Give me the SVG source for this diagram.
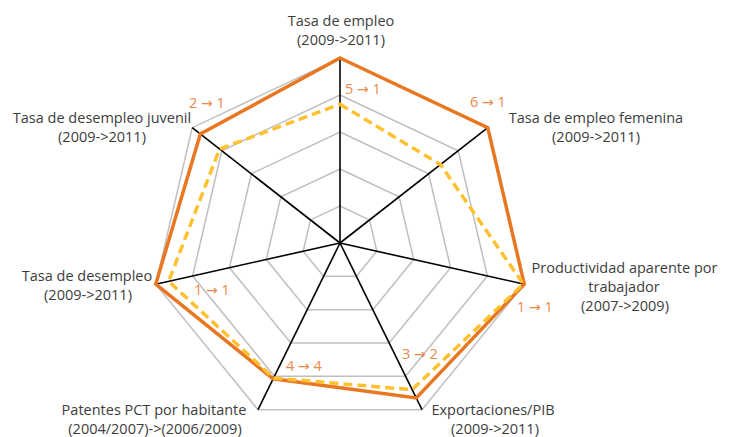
<svg xmlns="http://www.w3.org/2000/svg" width="731" height="437" viewBox="0 0 731 437">
<style>
.ring{fill:none;stroke:#bfbfbf;stroke-width:1.5}
.axis{stroke:#000;stroke-width:1.6}
.s2011{fill:none;stroke:#E87722;stroke-width:3.5;stroke-linejoin:miter}
.s2009{fill:none;stroke:#FFC130;stroke-width:3.5;stroke-dasharray:9 5;stroke-linejoin:round}
text{font-family:"Open Sans","Noto Sans","DejaVu Sans",sans-serif;font-size:14.5px}
.lbl{fill:#3d3d3d;text-anchor:middle}
.rk{fill:#E98A4A}
.ar{font-family:"DejaVu Sans",sans-serif;font-size:14px}
</style>
<rect width="731" height="437" fill="#fff"/>
<g id="grid">
<polygon class="ring" points="340,206 369.55,219.93 376.85,251.23 356.4,276.34 323.6,276.34 303.15,251.23 310.45,219.93"/>
<polygon class="ring" points="340,169 399.11,196.86 413.70,259.47 372.8,309.67 307.2,309.67 266.30,259.47 280.89,196.86"/>
<polygon class="ring" points="340,132 428.66,173.79 450.56,267.70 389.2,343.01 290.8,343.01 229.44,267.70 251.34,173.79"/>
<polygon class="ring" points="340,95 458.22,150.72 487.41,275.94 405.6,376.34 274.4,376.34 192.59,275.94 221.78,150.72"/>
<polygon class="ring" points="340,58 487.77,127.65 524.26,284.17 422,409.68 258,409.68 155.74,284.17 192.23,127.65"/>
</g>
<g id="connectors">
<line class="axis" x1="340" y1="243" x2="340" y2="58"/>
<line class="axis" x1="340" y1="243" x2="487.77" y2="127.65"/>
<line class="axis" x1="340" y1="243" x2="524.26" y2="284.17"/>
<line class="axis" x1="340" y1="243" x2="422" y2="409.68"/>
<line class="axis" x1="340" y1="243" x2="258" y2="409.68"/>
<line class="axis" x1="340" y1="243" x2="155.74" y2="284.17"/>
<line class="axis" x1="340" y1="243" x2="192.23" y2="127.65"/>
</g>
<g id="series">
<polygon class="s2011" points="340,58 487.77,127.65 524.26,284.17 416.26,398.01 273.17,378.84 155.74,284.17 200.36,133.99"/>
<polygon class="s2009" points="340,104.25 440.48,164.56 523.34,283.96 412.16,389.68 273.58,378.01 168.64,281.29 219.57,148.99"/>
</g>
<g id="n-empleo">
<text class="lbl" x="341" y="26">Tasa de empleo</text>
<text class="lbl" x="341" y="45">(2009-&gt;2011)</text>
<text class="rk" x="345" y="94">5 <tspan class="ar">→</tspan> 1</text>
</g>
<g id="n-femenina">
<text class="lbl" x="596" y="123">Tasa de empleo femenina</text>
<text class="lbl" x="596" y="142">(2009-&gt;2011)</text>
<text class="rk" x="470" y="107">6 <tspan class="ar">→</tspan> 1</text>
</g>
<g id="n-productividad">
<text class="lbl" x="624.5" y="273">Productividad aparente por</text>
<text class="lbl" x="624" y="292">trabajador</text>
<text class="lbl" x="625" y="311">(2007-&gt;2009)</text>
<text class="rk" x="517" y="312">1 <tspan class="ar">→</tspan> 1</text>
</g>
<g id="n-exportaciones">
<text class="lbl" x="493" y="415">Exportaciones/PIB</text>
<text class="lbl" x="495" y="434">(2009-&gt;2011)</text>
<text class="rk" x="402" y="359">3 <tspan class="ar">→</tspan> 2</text>
</g>
<g id="n-patentes">
<text class="lbl" x="154" y="415">Patentes PCT por habitante</text>
<text class="lbl" x="155" y="434">(2004/2007)-&gt;(2006/2009)</text>
<text class="rk" x="286" y="371">4 <tspan class="ar">→</tspan> 4</text>
</g>
<g id="n-desempleo">
<text class="lbl" x="87" y="281">Tasa de desempleo</text>
<text class="lbl" x="88" y="300">(2009-&gt;2011)</text>
<text class="rk" x="194" y="295">1 <tspan class="ar">→</tspan> 1</text>
</g>
<g id="n-juvenil">
<text class="lbl" x="102" y="123">Tasa de desempleo juvenil</text>
<text class="lbl" x="102" y="142">(2009-&gt;2011)</text>
<text class="rk" x="189" y="108">2 <tspan class="ar">→</tspan> 1</text>
</g>
</svg>
